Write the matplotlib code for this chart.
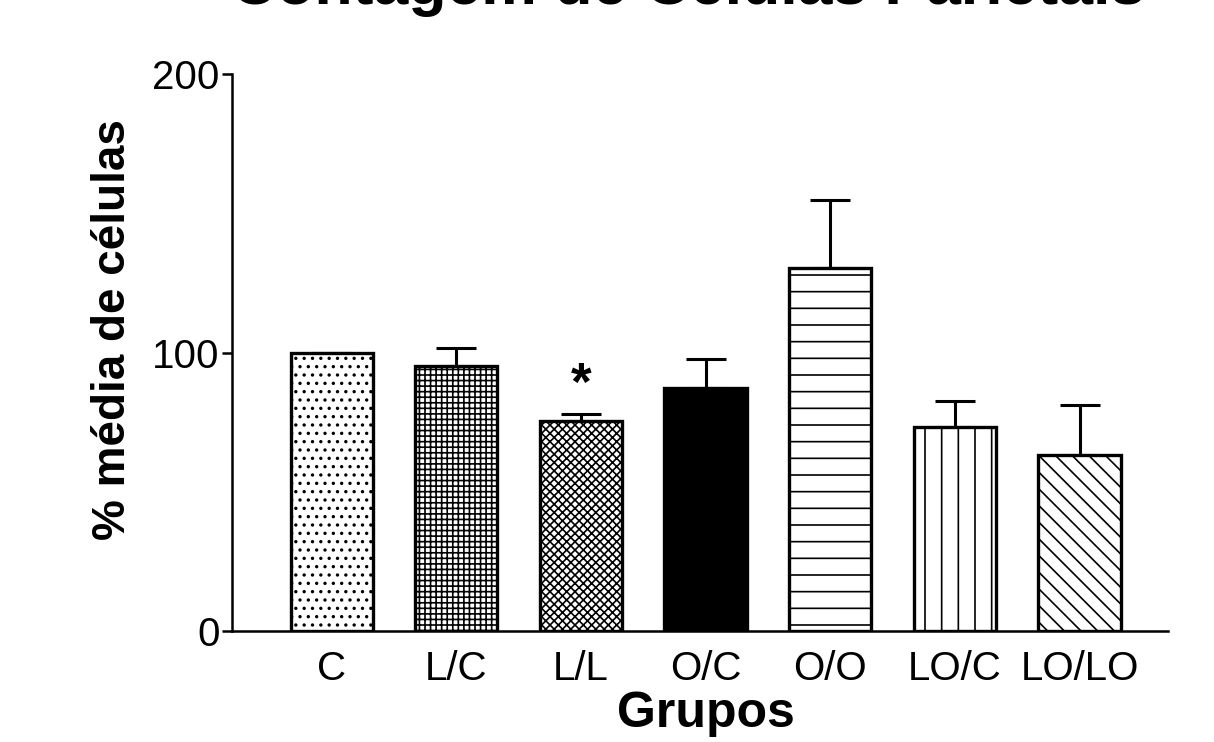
import numpy as np
import matplotlib
matplotlib.use('Agg')
import matplotlib.pyplot as plt

# values (percent of control)
groups = ['C', 'L/C', 'L/L', 'O/C', 'O/O', 'LO/C', 'LO/LO']
means = [100.0, 95.2, 75.4, 87.3, 130.3, 73.2, 63.2]
sem = [0.0, 6.5, 2.5, 10.4, 24.4, 9.3, 18.0]
hatches = ['..', '+++', 'xxxx', '', '-', '|', '\\\\']
faces = ['white', 'white', 'white', 'black', 'white', 'white', 'white']
significant = ['L/L']

title = 'Contagem de Células Parietais'

plt.rcParams['font.family'] = ['Liberation Sans', 'DejaVu Sans']
plt.rcParams['hatch.linewidth'] = 1.2
plt.rcParams['hatch.color'] = 'black'

fig = plt.figure(figsize=(12.14, 7.42), dpi=100)
ax = fig.add_axes([232 / 1214, 111 / 742, 936 / 1214, 557 / 742])

x = np.arange(len(groups))
ax.errorbar(x, means, yerr=[np.zeros(len(sem)), sem], fmt='none',
            ecolor='black', elinewidth=2.2, capsize=14.5, capthick=2.2,
            zorder=1)
bars = ax.bar(x, means, width=0.66, color=faces, edgecolor='black',
              linewidth=2.4, zorder=2)
for bar, h in zip(bars, hatches):
    bar.set_hatch(h)

for g in significant:
    i = groups.index(g)
    ax.text(x[i], means[i] + sem[i] + 1, '*', ha='center', va='bottom',
            fontsize=38, fontweight='bold')

ax.set_xlim(-0.80, 6.71)
ax.set_ylim(0, 200)
ax.set_yticks([0, 100, 200])
ax.set_xticks(x)
ax.set_xticklabels(groups)

for side in ('top', 'right'):
    ax.spines[side].set_visible(False)
for side in ('left', 'bottom'):
    ax.spines[side].set_linewidth(1.8)

ax.tick_params(axis='y', direction='out', length=7, width=1.8,
               labelsize=29, pad=2)
ax.tick_params(axis='x', length=0, labelsize=29, pad=14)

ax.set_ylabel('% média de células', fontsize=33, fontweight='bold')
ax.yaxis.set_label_coords(-0.104, 0.542)
ax.set_xlabel('Grupos', fontsize=36, fontweight='bold')
ax.xaxis.set_label_coords((706 - 232) / 936, -0.107)

fig.text(688 / 1214, 1 - 4 / 742, title, ha='center', va='baseline',
         fontsize=45, fontweight='bold')

fig.savefig('out.png', dpi=100)
